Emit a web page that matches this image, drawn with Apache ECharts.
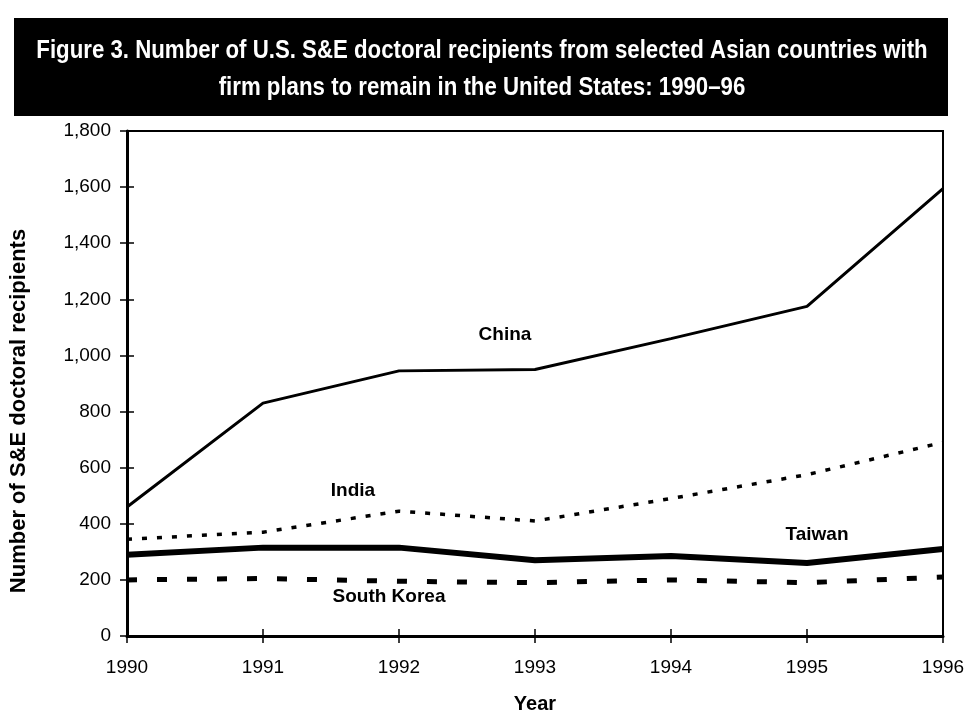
<!DOCTYPE html>
<html>
<head>
<meta charset="utf-8">
<script src="https://cdn.jsdelivr.net/npm/echarts@6/dist/echarts.min.js"></script>
<style>
html,body{margin:0;padding:0;background:#fff;}
#c{width:965px;height:712px;}
</style>
</head>
<body>
<div id="c"></div>
<script>
var years = [1990, 1991, 1992, 1993, 1994, 1995, 1996];
var china = [460, 830, 945, 950, 1060, 1175, 1595];
var india = [345, 370, 445, 410, 490, 575, 690];
var taiwan = [290, 315, 315, 270, 285, 260, 310];
var southKorea = [200, 205, 195, 190, 200, 190, 210];
var yTicks = [0, 200, 400, 600, 800, 1000, 1200, 1400, 1600, 1800];

var titleLines = ['Figure 3. Number of U.S. S&E doctoral recipients from selected Asian countries with',
                  'firm plans to remain in the United States: 1990\u201396'];

function pairs(vals){ return years.map(function(y,i){ return [y, vals[i]]; }); }

var FONT = '"Liberation Sans", Arial, sans-serif';

var chart = echarts.init(document.getElementById('c'), null, {renderer:'canvas'});
var option = {
  animation: false,
  backgroundColor: '#fff',
  grid: {left:127, right:22, top:131, bottom:76, containLabel:false, outerBoundsMode:'none',
         show:true, borderColor:'#000', borderWidth:2, backgroundColor:'transparent'},
  xAxis: [{
    type:'value', min:1990, max:1996, interval:1,
    name:'Year', nameLocation:'middle', nameGap:58,
    nameTextStyle:{fontFamily:FONT, fontWeight:'bold', fontSize:20, color:'#000'},
    axisLine:{show:true, lineStyle:{color:'#000', width:3}},
    axisTick:{show:true, inside:false, length:7, lineStyle:{color:'#000', width:1.5}},
    axisLabel:{margin:22, fontFamily:FONT, fontSize:19, color:'#000', formatter:function(v){return String(v);}},
    splitLine:{show:false}
  },{
    type:'value', min:1990, max:1996, interval:1, position:'bottom',
    axisLine:{show:false},
    axisTick:{show:true, inside:true, length:7, lineStyle:{color:'#000', width:1.5}},
    axisLabel:{show:false}, splitLine:{show:false}
  }],
  yAxis: [{
    type:'value', min:yTicks[0], max:yTicks[yTicks.length-1], interval:200,
    axisLine:{show:true, lineStyle:{color:'#000', width:3}},
    axisTick:{show:true, inside:false, length:7, lineStyle:{color:'#000', width:1.5}},
    axisLabel:{margin:16, fontFamily:FONT, fontSize:19, color:'#000',
      formatter:function(v){return v.toLocaleString('en-US');}},
    splitLine:{show:false}
  },{
    type:'value', min:yTicks[0], max:yTicks[yTicks.length-1], interval:200, position:'left',
    axisLine:{show:false},
    axisTick:{show:true, inside:true, length:7, lineStyle:{color:'#000', width:1.5}},
    axisLabel:{show:false}, splitLine:{show:false}
  }],
  series: [
    {name:'China', type:'line', data:pairs(china), symbol:'none', lineStyle:{color:'#000', width:3}},
    {name:'India', type:'line', data:pairs(india), symbol:'none', lineStyle:{color:'#000', width:3.5, type:[5,10]}},
    {name:'Taiwan', type:'line', data:pairs(taiwan), symbol:'none', lineStyle:{color:'#000', width:6}},
    {name:'South Korea', type:'line', data:pairs(southKorea), symbol:'none', lineStyle:{color:'#000', width:5, type:[10,20]}}
  ],
  graphic: [
    {type:'rect', shape:{x:14, y:18, width:934, height:98}, style:{fill:'#000'}, z:-1},
    {type:'text', x:482, y:51, scaleX:0.89, style:{text:titleLines[0], fill:'#fff', font:'bold 25px ' + FONT, textAlign:'center', textVerticalAlign:'middle'}},
    {type:'text', x:482, y:88, scaleX:0.89, style:{text:titleLines[1], fill:'#fff', font:'bold 25px ' + FONT, textAlign:'center', textVerticalAlign:'middle'}},
    {type:'text', x:19, y:411, rotation:Math.PI/2, style:{text:'Number of S&E doctoral recipients', fill:'#000', font:'bold 22px ' + FONT, textAlign:'center', textVerticalAlign:'middle'}},
    {type:'text', x:505, y:335, style:{text:'China', fill:'#000', font:'bold 19px ' + FONT, textAlign:'center', textVerticalAlign:'middle'}},
    {type:'text', x:353, y:491, style:{text:'India', fill:'#000', font:'bold 19px ' + FONT, textAlign:'center', textVerticalAlign:'middle'}},
    {type:'text', x:817, y:535, style:{text:'Taiwan', fill:'#000', font:'bold 19px ' + FONT, textAlign:'center', textVerticalAlign:'middle'}},
    {type:'text', x:389, y:597, style:{text:'South Korea', fill:'#000', font:'bold 19px ' + FONT, textAlign:'center', textVerticalAlign:'middle'}}
  ]
};
chart.setOption(option);
</script>
</body>
</html>
